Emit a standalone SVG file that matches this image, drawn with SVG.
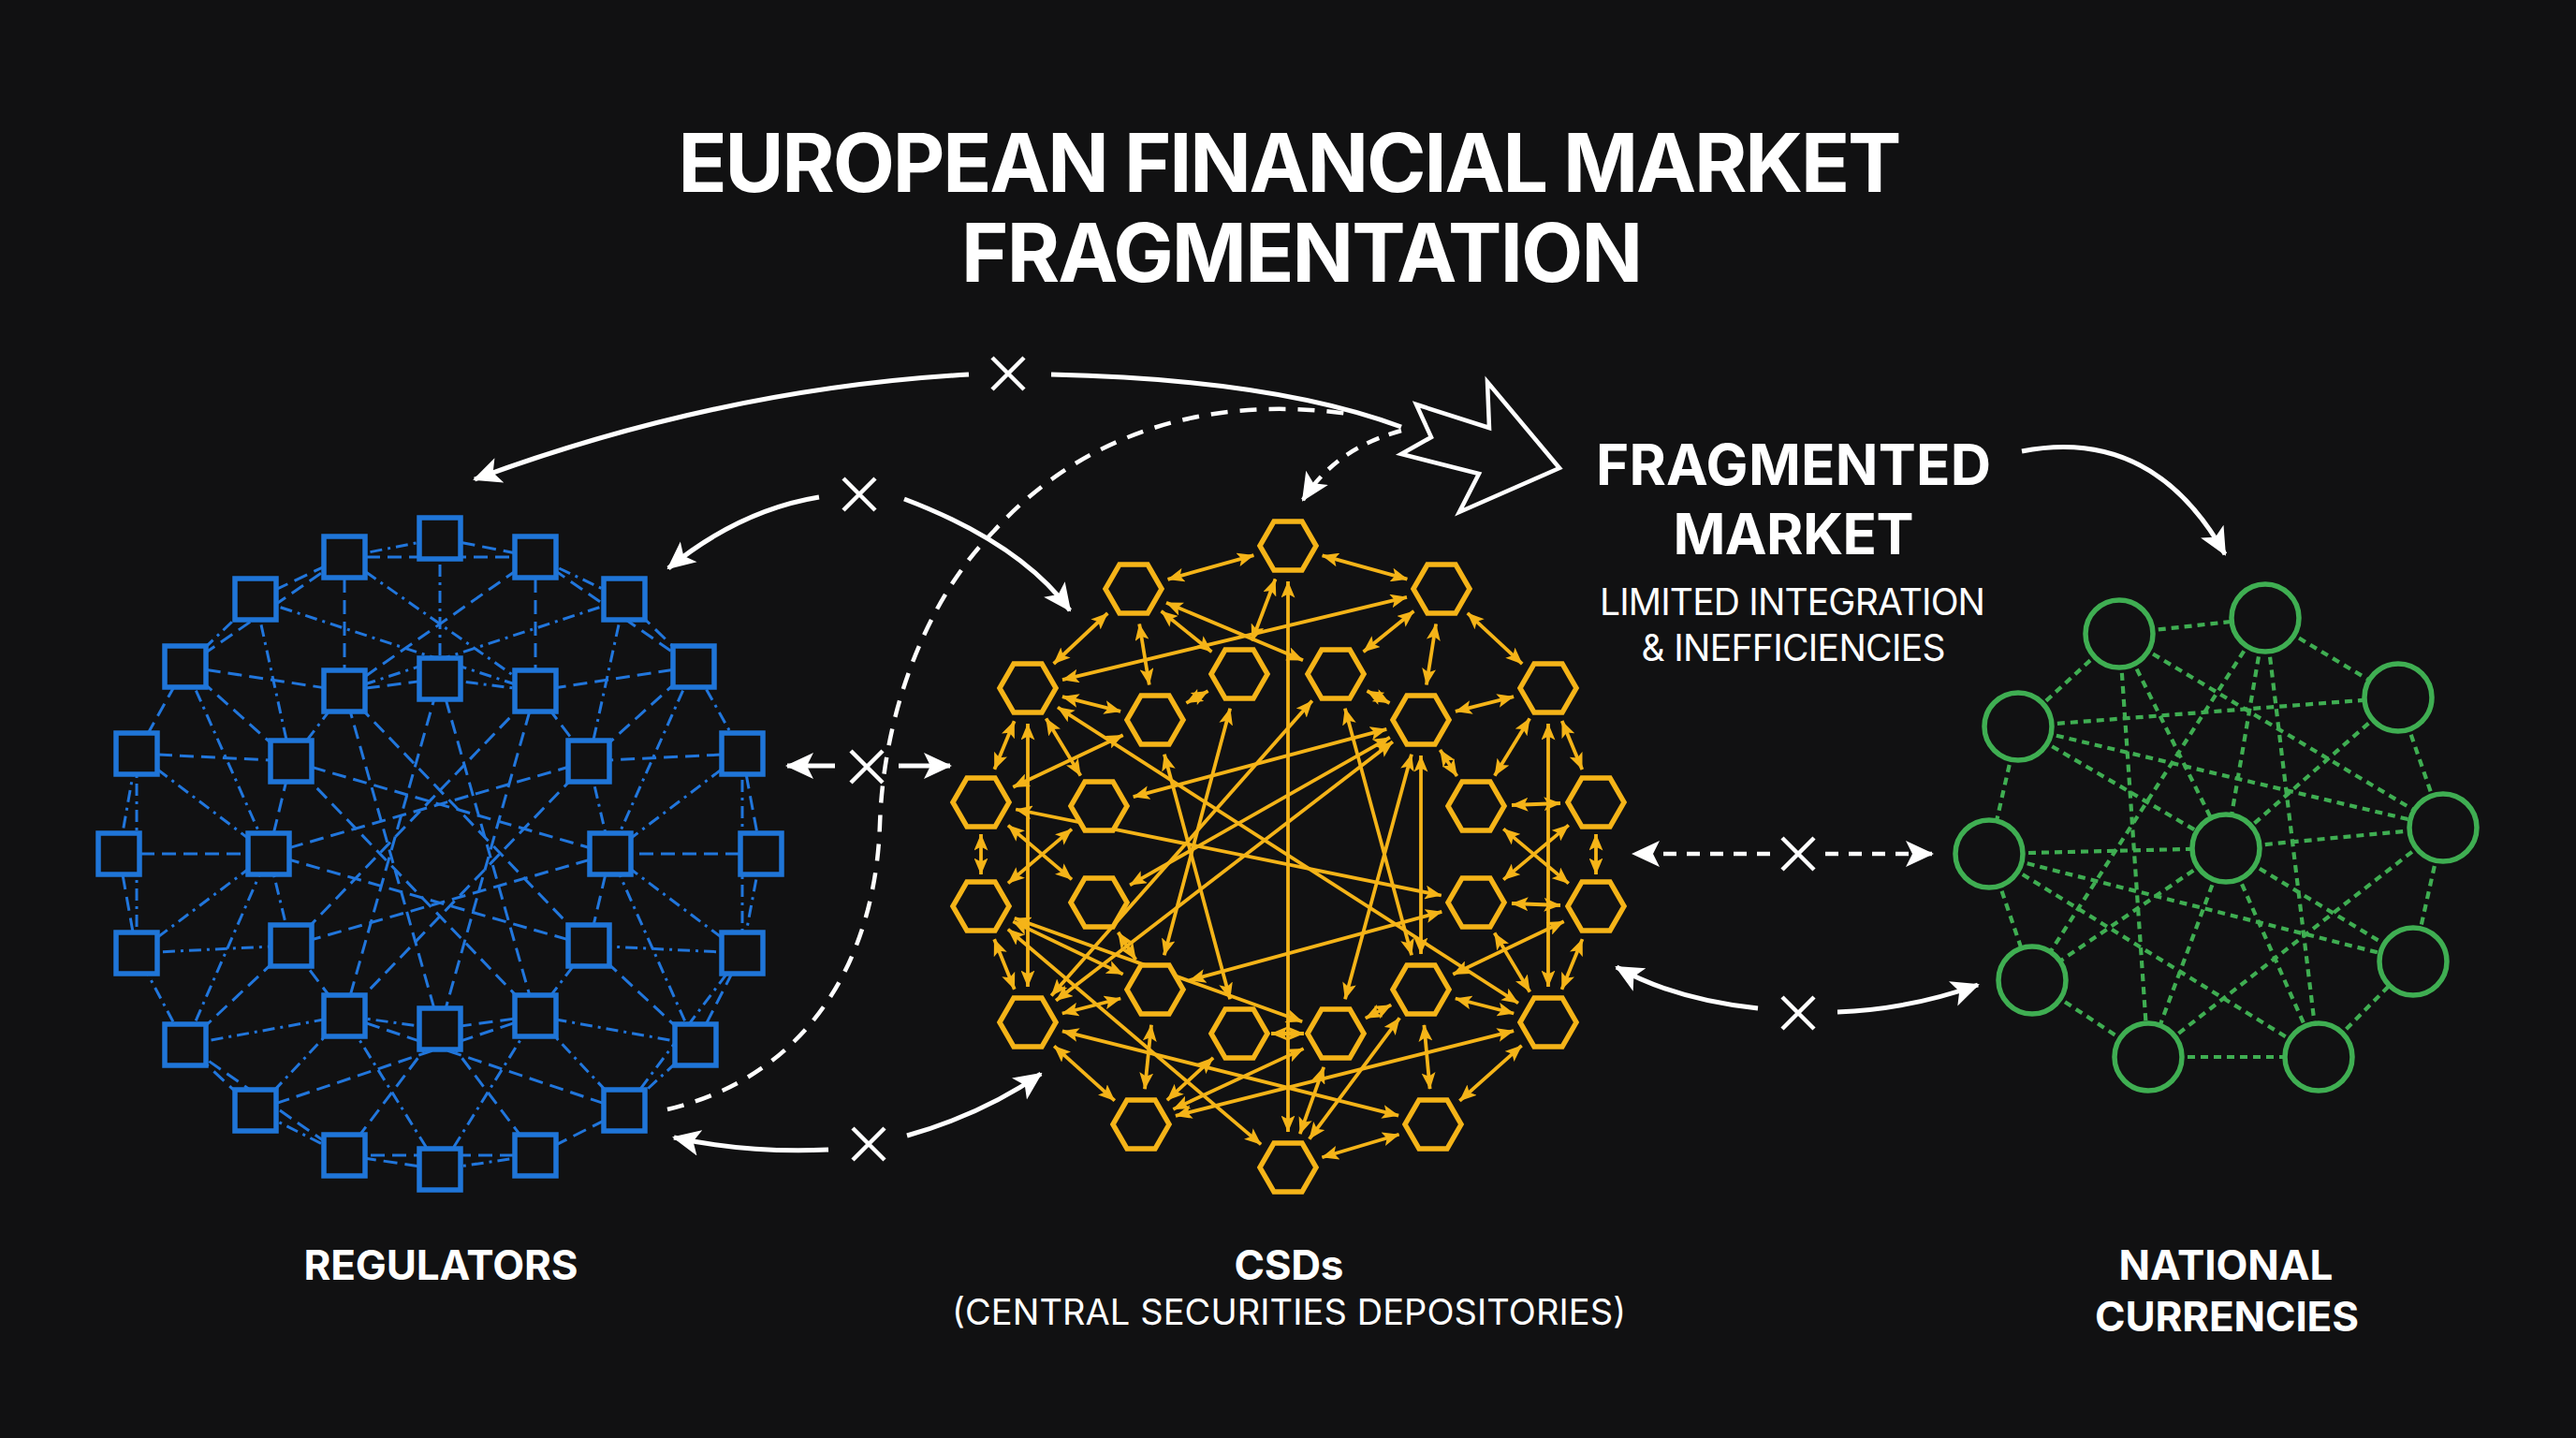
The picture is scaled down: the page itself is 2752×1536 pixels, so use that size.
<svg xmlns="http://www.w3.org/2000/svg" xmlns:xlink="http://www.w3.org/1999/xlink" width="2752" height="1536" viewBox="0 0 2752 1536">
<style>
.bg{fill:#111112}
.t{font-family:Inter,"Liberation Sans",sans-serif;fill:#ffffff;text-anchor:middle}
.b{font-weight:700}
.r{font-weight:400}
.b1{stroke:#2176dc;stroke-width:3;stroke-dasharray:15 8;fill:none}
.b2{stroke:#2176dc;stroke-width:3;stroke-dasharray:13 6 3 6;fill:none}
.ye{stroke:#f5b418;stroke-width:3.8;fill:none;marker-start:url(#ya);marker-end:url(#ya)}
.gr{stroke:#3fae52;stroke-width:4.2;stroke-dasharray:8 6;fill:none}
.wa{stroke:#ffffff;stroke-width:5;fill:none;stroke-linecap:butt}
.wd{stroke:#ffffff;stroke-width:4.5;fill:none;stroke-dasharray:18 13}
.wd2{stroke:#ffffff;stroke-width:4.5;fill:none;stroke-dasharray:14 11}
.xm{stroke:#ffffff;stroke-width:4.5;fill:none}
.sq{fill:#111112;stroke:#1f75d8;stroke-width:5.5}
.hx{fill:#111112;stroke:#f5b418;stroke-width:5.5}
.ci{fill:#111112;stroke:#3fae52;stroke-width:5.5}
</style>
<defs>
<marker id="wa" viewBox="0 0 30 30" refX="28" refY="15" markerWidth="30" markerHeight="30" markerUnits="userSpaceOnUse" orient="auto-start-reverse">
<path d="M0,1 L30,15 L0,29 L7,15 z" fill="#ffffff"/>
</marker>
<marker id="ya" viewBox="0 0 18 15" refX="17.5" refY="7.5" markerWidth="18" markerHeight="15" markerUnits="userSpaceOnUse" orient="auto-start-reverse">
<path d="M0,0 L18,7.5 L0,15 L4,7.5 z" fill="#f5b418"/>
</marker>
<rect id="sq" x="-22" y="-22" width="44" height="44" class="sq"/>
<polygon id="hex" points="30,0 15,26 -15,26 -30,0 -15,-26 15,-26" class="hx"/>
<circle id="cir" r="36" class="ci"/>
<path id="xmark" d="M-17,-17 L17,17 M17,-17 L-17,17" class="xm"/>
</defs>
<rect class="bg" x="0" y="0" width="2752" height="1536"/>

<g id="title">
<text class="t b" x="1378" y="205" font-size="86" textLength="1307">EUROPEAN FINANCIAL MARKET</text>
<text class="t b" x="1391" y="301" font-size="86" textLength="728">FRAGMENTATION</text>
</g>

<g id="connectors">
<g id="regulator-links">
<line class="b1" x1="470" y1="575" x2="572" y2="595"/><line class="b2" x1="572" y1="595" x2="667" y2="640"/>
<line class="b1" x1="667" y1="640" x2="741" y2="712"/><line class="b2" x1="741" y1="712" x2="793" y2="805"/>
<line class="b1" x1="793" y1="805" x2="813" y2="912"/><line class="b2" x1="813" y1="912" x2="793" y2="1018"/>
<line class="b1" x1="793" y1="1018" x2="743" y2="1116"/><line class="b2" x1="743" y1="1116" x2="667" y2="1186"/>
<line class="b1" x1="667" y1="1186" x2="572" y2="1234"/><line class="b2" x1="572" y1="1234" x2="470" y2="1249"/>
<line class="b1" x1="470" y1="1249" x2="368" y2="1234"/><line class="b2" x1="368" y1="1234" x2="273" y2="1186"/>
<line class="b1" x1="273" y1="1186" x2="198" y2="1116"/><line class="b2" x1="198" y1="1116" x2="146" y2="1018"/>
<line class="b1" x1="146" y1="1018" x2="127" y2="912"/><line class="b2" x1="127" y1="912" x2="146" y2="805"/>
<line class="b1" x1="146" y1="805" x2="198" y2="712"/><line class="b2" x1="198" y1="712" x2="273" y2="640"/>
<line class="b1" x1="273" y1="640" x2="368" y2="595"/><line class="b2" x1="368" y1="595" x2="470" y2="575"/>
<line class="b1" x1="572" y1="595" x2="741" y2="712"/>
<line class="b2" x1="793" y1="805" x2="793" y2="1018"/>
<line class="b2" x1="793" y1="1018" x2="667" y2="1186"/>
<line class="b1" x1="572" y1="1234" x2="368" y2="1234"/>
<line class="b1" x1="368" y1="1234" x2="198" y2="1116"/>
<line class="b2" x1="146" y1="1018" x2="146" y2="805"/>
<line class="b1" x1="198" y1="712" x2="368" y2="595"/>
<line class="b1" x1="368" y1="595" x2="572" y2="595"/>
<line class="b2" x1="470" y1="725" x2="572" y2="738"/><line class="b1" x1="572" y1="738" x2="629" y2="813"/>
<line class="b2" x1="629" y1="813" x2="652" y2="912"/><line class="b1" x1="652" y1="912" x2="629" y2="1010"/>
<line class="b2" x1="629" y1="1010" x2="572" y2="1085"/><line class="b1" x1="572" y1="1085" x2="470" y2="1099"/>
<line class="b2" x1="470" y1="1099" x2="368" y2="1085"/><line class="b1" x1="368" y1="1085" x2="311" y2="1010"/>
<line class="b2" x1="311" y1="1010" x2="287" y2="912"/><line class="b1" x1="287" y1="912" x2="311" y2="813"/>
<line class="b2" x1="311" y1="813" x2="368" y2="738"/><line class="b1" x1="368" y1="738" x2="470" y2="725"/>
<line class="b1" x1="470" y1="725" x2="572" y2="1085"/><line class="b1" x1="572" y1="738" x2="470" y2="1099"/>
<line class="b1" x1="629" y1="813" x2="368" y2="1085"/><line class="b1" x1="652" y1="912" x2="311" y2="1010"/>
<line class="b1" x1="629" y1="1010" x2="287" y2="912"/><line class="b1" x1="572" y1="1085" x2="311" y2="813"/>
<line class="b1" x1="470" y1="1099" x2="368" y2="738"/><line class="b1" x1="368" y1="1085" x2="470" y2="725"/>
<line class="b1" x1="311" y1="1010" x2="572" y2="738"/><line class="b1" x1="287" y1="912" x2="629" y2="813"/>
<line class="b1" x1="311" y1="813" x2="652" y2="912"/><line class="b1" x1="368" y1="738" x2="629" y2="1010"/>
<line class="b2" x1="470" y1="575" x2="470" y2="725"/><line class="b1" x1="368" y1="595" x2="368" y2="738"/>
<line class="b1" x1="572" y1="595" x2="572" y2="738"/><line class="b2" x1="368" y1="595" x2="572" y2="738"/>
<line class="b1" x1="572" y1="595" x2="368" y2="738"/><line class="b2" x1="273" y1="640" x2="311" y2="813"/>
<line class="b2" x1="667" y1="640" x2="629" y2="813"/><line class="b1" x1="198" y1="712" x2="368" y2="738"/>
<line class="b1" x1="741" y1="712" x2="572" y2="738"/><line class="b2" x1="146" y1="805" x2="287" y2="912"/>
<line class="b2" x1="793" y1="805" x2="652" y2="912"/><line class="b1" x1="127" y1="912" x2="287" y2="912"/>
<line class="b1" x1="813" y1="912" x2="652" y2="912"/><line class="b2" x1="146" y1="1018" x2="287" y2="912"/>
<line class="b2" x1="793" y1="1018" x2="652" y2="912"/><line class="b1" x1="198" y1="1116" x2="311" y2="1010"/>
<line class="b1" x1="743" y1="1116" x2="629" y2="1010"/><line class="b2" x1="273" y1="1186" x2="368" y2="1085"/>
<line class="b2" x1="667" y1="1186" x2="572" y2="1085"/><line class="b1" x1="368" y1="1234" x2="470" y2="1099"/>
<line class="b1" x1="572" y1="1234" x2="470" y2="1099"/><line class="b2" x1="470" y1="1249" x2="368" y2="1085"/>
<line class="b2" x1="470" y1="1249" x2="572" y2="1085"/><line class="b1" x1="146" y1="805" x2="311" y2="813"/>
<line class="b1" x1="793" y1="805" x2="629" y2="813"/><line class="b2" x1="146" y1="1018" x2="311" y2="1010"/>
<line class="b2" x1="793" y1="1018" x2="629" y2="1010"/><line class="b1" x1="198" y1="712" x2="311" y2="813"/>
<line class="b1" x1="741" y1="712" x2="629" y2="813"/><line class="b2" x1="198" y1="1116" x2="368" y2="1085"/>
<line class="b2" x1="743" y1="1116" x2="572" y2="1085"/><line class="b2" x1="273" y1="640" x2="572" y2="738"/>
<line class="b2" x1="667" y1="640" x2="368" y2="738"/><line class="b1" x1="273" y1="1186" x2="572" y2="1085"/>
<line class="b1" x1="667" y1="1186" x2="368" y2="1085"/>
<line class="b2" x1="198" y1="712" x2="287" y2="912"/><line class="b2" x1="741" y1="712" x2="652" y2="912"/>
<line class="b2" x1="198" y1="1116" x2="287" y2="912"/><line class="b2" x1="743" y1="1116" x2="652" y2="912"/>
</g>

<g id="csd-links">
<line class="ye" x1="1339.4" y1="593.2" x2="1247.6" y2="618.8"/>
<line class="ye" x1="1412.6" y1="593.3" x2="1503.4" y2="618.7"/>
<line class="ye" x1="1183.3" y1="655" x2="1125.7" y2="709"/>
<line class="ye" x1="1217.2" y1="666.5" x2="1227.8" y2="731.5"/>
<line class="ye" x1="1246" y1="643.8" x2="1392" y2="705.2"/>
<line class="ye" x1="1240.6" y1="652.8" x2="1294.4" y2="696.2"/>
<line class="ye" x1="1503" y1="637.9" x2="1135" y2="726.1"/>
<line class="ye" x1="1510.4" y1="652.8" x2="1456.6" y2="696.2"/>
<line class="ye" x1="1534.1" y1="666.5" x2="1523.9" y2="731.5"/>
<line class="ye" x1="1567.8" y1="654.9" x2="1626.2" y2="709.1"/>
<line class="ye" x1="1376" y1="621" x2="1376" y2="1209"/>
<line class="ye" x1="1362.5" y1="618.5" x2="1337.5" y2="684.5"/>
<line class="ye" x1="1134.9" y1="744.2" x2="1197.1" y2="759.8"/>
<line class="ye" x1="1083.6" y1="770.2" x2="1062.4" y2="821.8"/>
<line class="ye" x1="1098" y1="773" x2="1098" y2="1054"/>
<line class="ye" x1="1117.6" y1="767.5" x2="1154.4" y2="828.5"/>
<line class="ye" x1="1130" y1="755.5" x2="1622" y2="1071.5"/>
<line class="ye" x1="1290.6" y1="738.2" x2="1267.4" y2="750.8"/>
<line class="ye" x1="1199.7" y1="785.2" x2="1082.3" y2="840.8"/>
<line class="ye" x1="1243.9" y1="805.7" x2="1314.1" y2="1067.3"/>
<line class="ye" x1="1481.3" y1="778.8" x2="1210.7" y2="851.2"/>
<line class="ye" x1="1484.5" y1="751" x2="1460.5" y2="738"/>
<line class="ye" x1="1554.9" y1="759.8" x2="1617.1" y2="744.2"/>
<line class="ye" x1="1538.5" y1="801" x2="1556.5" y2="829"/>
<line class="ye" x1="1518" y1="807" x2="1518" y2="1019"/>
<line class="ye" x1="1484.9" y1="787.7" x2="1207.1" y2="945.3"/>
<line class="ye" x1="1508" y1="805.7" x2="1437" y2="1067.3"/>
<line class="ye" x1="1436.9" y1="756.7" x2="1508.1" y2="1020.3"/>
<line class="ye" x1="1401.8" y1="748.5" x2="1123.2" y2="1063.5"/>
<line class="ye" x1="1634.2" y1="767.4" x2="1596.8" y2="828.6"/>
<line class="ye" x1="1668.7" y1="770.1" x2="1690.3" y2="821.9"/>
<line class="ye" x1="1654" y1="773" x2="1654" y2="1054"/>
<line class="ye" x1="1615" y1="860" x2="1667" y2="858"/>
<line class="ye" x1="1606.2" y1="885.4" x2="1675.8" y2="943.6"/>
<line class="ye" x1="1675.8" y1="881.4" x2="1606.2" y2="939.6"/>
<line class="ye" x1="1705" y1="891" x2="1705" y2="934"/>
<line class="ye" x1="1667" y1="967" x2="1615" y2="965"/>
<line class="ye" x1="1670.7" y1="984.3" x2="1552.3" y2="1040.7"/>
<line class="ye" x1="1690.5" y1="1003.1" x2="1668.5" y2="1056.9"/>
<line class="ye" x1="1596.6" y1="996.6" x2="1634.4" y2="1059.4"/>
<line class="ye" x1="1540.3" y1="973.9" x2="1270.7" y2="1047.1"/>
<line class="ye" x1="1048" y1="891" x2="1048" y2="934"/>
<line class="ye" x1="1077" y1="881.6" x2="1145" y2="939.4"/>
<line class="ye" x1="1085.2" y1="864.5" x2="1539.8" y2="956.5"/>
<line class="ye" x1="1077" y1="943.4" x2="1145" y2="885.6"/>
<line class="ye" x1="1062.2" y1="1003.2" x2="1083.8" y2="1056.8"/>
<line class="ye" x1="1082.3" y1="984.4" x2="1199.7" y2="1040.6"/>
<line class="ye" x1="1083.8" y1="980.8" x2="1391.2" y2="1091.2"/>
<line class="ye" x1="1194.6" y1="995.9" x2="1213.4" y2="1025.1"/>
<line class="ye" x1="1134.8" y1="1082.5" x2="1197.2" y2="1066.5"/>
<line class="ye" x1="1126.2" y1="1117.4" x2="1190.8" y2="1175.6"/>
<line class="ye" x1="1134.9" y1="1101.3" x2="1494.1" y2="1191.7"/>
<line class="ye" x1="1128.1" y1="1068.8" x2="1487.9" y2="792.2"/>
<line class="ye" x1="1230" y1="1094.8" x2="1223" y2="1163.2"/>
<line class="ye" x1="1358" y1="1104" x2="1393" y2="1104"/>
<line class="ye" x1="1296.1" y1="1129.8" x2="1246.9" y2="1175.2"/>
<line class="ye" x1="1458.8" y1="1087.6" x2="1486.2" y2="1073.4"/>
<line class="ye" x1="1392.6" y1="1120.1" x2="1253.4" y2="1184.9"/>
<line class="ye" x1="1255.9" y1="1191.8" x2="1617.1" y2="1101.2"/>
<line class="ye" x1="1398.8" y1="1216.6" x2="1495.2" y2="1087.4"/>
<line class="ye" x1="1388.8" y1="1211.2" x2="1414.2" y2="1139.8"/>
<line class="ye" x1="1412.4" y1="1236.2" x2="1494.6" y2="1211.8"/>
<line class="ye" x1="1527.6" y1="1163.2" x2="1521.4" y2="1094.8"/>
<line class="ye" x1="1559.4" y1="1175.8" x2="1625.6" y2="1116.8"/>
<line class="ye" x1="1554.8" y1="1066.5" x2="1617.2" y2="1082.5"/>
<line class="ye" x1="1076.9" y1="992.6" x2="1347.1" y2="1222.4"/>
<line class="ye" x1="1314.2" y1="756.7" x2="1243.8" y2="1020.3"/>
</g>

<g id="currency-links">
<line class="gr" x1="2264" y1="677" x2="2420" y2="660"/>
<line class="gr" x1="2420" y1="660" x2="2562" y2="745"/>
<line class="gr" x1="2264" y1="677" x2="2156" y2="776"/>
<line class="gr" x1="2562" y1="745" x2="2610" y2="884"/>
<line class="gr" x1="2156" y1="776" x2="2125" y2="912"/>
<line class="gr" x1="2610" y1="884" x2="2578" y2="1027"/>
<line class="gr" x1="2125" y1="912" x2="2171" y2="1047"/>
<line class="gr" x1="2171" y1="1047" x2="2295" y2="1129"/>
<line class="gr" x1="2295" y1="1129" x2="2477" y2="1129"/>
<line class="gr" x1="2477" y1="1129" x2="2578" y2="1027"/>
<line class="gr" x1="2156" y1="776" x2="2562" y2="745"/>
<line class="gr" x1="2264" y1="677" x2="2378" y2="906"/>
<line class="gr" x1="2264" y1="677" x2="2610" y2="884"/>
<line class="gr" x1="2420" y1="660" x2="2378" y2="906"/>
<line class="gr" x1="2420" y1="660" x2="2477" y2="1129"/>
<line class="gr" x1="2420" y1="660" x2="2171" y2="1047"/>
<line class="gr" x1="2562" y1="745" x2="2378" y2="906"/>
<line class="gr" x1="2156" y1="776" x2="2378" y2="906"/>
<line class="gr" x1="2125" y1="912" x2="2378" y2="906"/>
<line class="gr" x1="2125" y1="912" x2="2578" y2="1027"/>
<line class="gr" x1="2125" y1="912" x2="2477" y2="1129"/>
<line class="gr" x1="2378" y1="906" x2="2610" y2="884"/>
<line class="gr" x1="2378" y1="906" x2="2295" y2="1129"/>
<line class="gr" x1="2378" y1="906" x2="2171" y2="1047"/>
<line class="gr" x1="2378" y1="906" x2="2578" y2="1027"/>
<line class="gr" x1="2378" y1="906" x2="2477" y2="1129"/>
<line class="gr" x1="2610" y1="884" x2="2295" y2="1129"/>
<line class="gr" x1="2264" y1="677" x2="2295" y2="1129"/>
<line class="gr" x1="2156" y1="776" x2="2610" y2="884"/>
</g>

<g id="cross-links">
<path class="wa" d="M1035,400 Q770,415 507,512" marker-end="url(#wa)"/>
<path class="wa" d="M1123,400 Q1360,405 1497,456"/>
<path class="wd" d="M713,1185 C860,1150 935,1030 940,880 C944,760 990,640 1062,567 C1150,470 1280,420 1440,442"/>
<path class="wd2" d="M1497,460 C1460,470 1420,490 1392,534" marker-end="url(#wa)"/>
<path class="wa" d="M875,531 Q790,545 714,607" marker-end="url(#wa)"/>
<path class="wa" d="M966,533 Q1090,580 1143,652" marker-end="url(#wa)"/>
<path class="wa" d="M892,818 L841,818" marker-end="url(#wa)"/>
<path class="wa" d="M960,818 L1015,818" marker-end="url(#wa)"/>
<path class="wa" d="M885,1228 Q800,1232 720,1215" marker-end="url(#wa)"/>
<path class="wa" d="M969,1213 Q1050,1190 1112,1147" marker-end="url(#wa)"/>
<path class="wd2" d="M1891,912 L1745,912" marker-end="url(#wa)"/>
<path class="wd2" d="M1950,912 L2064,912" marker-end="url(#wa)"/>
<path class="wa" d="M1878,1077 Q1790,1068 1727,1033" marker-end="url(#wa)"/>
<path class="wa" d="M1963,1081 Q2040,1078 2113,1052" marker-end="url(#wa)"/>
<path class="wa" d="M2160,482 Q2300,455 2377,592" marker-end="url(#wa)"/>
<polygon points="1513,432 1591,457 1589,408 1666,500 1559,547 1580,506 1497,485 1529,467" fill="#111112" stroke="#ffffff" stroke-width="4.5" stroke-linejoin="miter"/>
<use href="#xmark" x="1077" y="399"/>
<use href="#xmark" x="918" y="528"/>
<use href="#xmark" x="926" y="819"/>
<use href="#xmark" x="928" y="1222"/>
<use href="#xmark" x="1921" y="912"/>
<use href="#xmark" x="1921" y="1082"/>
</g>
</g>

<g id="regulators">
<g id="reg-1"><use href="#sq" x="470" y="575"/></g>
<g id="reg-2"><use href="#sq" x="368" y="595"/></g>
<g id="reg-3"><use href="#sq" x="572" y="595"/></g>
<g id="reg-4"><use href="#sq" x="273" y="640"/></g>
<g id="reg-5"><use href="#sq" x="667" y="640"/></g>
<g id="reg-6"><use href="#sq" x="198" y="712"/></g>
<g id="reg-7"><use href="#sq" x="741" y="712"/></g>
<g id="reg-8"><use href="#sq" x="470" y="725"/></g>
<g id="reg-9"><use href="#sq" x="368" y="738"/></g>
<g id="reg-10"><use href="#sq" x="572" y="738"/></g>
<g id="reg-11"><use href="#sq" x="146" y="805"/></g>
<g id="reg-12"><use href="#sq" x="793" y="805"/></g>
<g id="reg-13"><use href="#sq" x="311" y="813"/></g>
<g id="reg-14"><use href="#sq" x="629" y="813"/></g>
<g id="reg-15"><use href="#sq" x="127" y="912"/></g>
<g id="reg-16"><use href="#sq" x="813" y="912"/></g>
<g id="reg-17"><use href="#sq" x="287" y="912"/></g>
<g id="reg-18"><use href="#sq" x="652" y="912"/></g>
<g id="reg-19"><use href="#sq" x="146" y="1018"/></g>
<g id="reg-20"><use href="#sq" x="793" y="1018"/></g>
<g id="reg-21"><use href="#sq" x="311" y="1010"/></g>
<g id="reg-22"><use href="#sq" x="629" y="1010"/></g>
<g id="reg-23"><use href="#sq" x="198" y="1116"/></g>
<g id="reg-24"><use href="#sq" x="743" y="1116"/></g>
<g id="reg-25"><use href="#sq" x="368" y="1085"/></g>
<g id="reg-26"><use href="#sq" x="470" y="1099"/></g>
<g id="reg-27"><use href="#sq" x="572" y="1085"/></g>
<g id="reg-28"><use href="#sq" x="273" y="1186"/></g>
<g id="reg-29"><use href="#sq" x="667" y="1186"/></g>
<g id="reg-30"><use href="#sq" x="368" y="1234"/></g>
<g id="reg-31"><use href="#sq" x="470" y="1249"/></g>
<g id="reg-32"><use href="#sq" x="572" y="1234"/></g>
</g>

<g id="csds">
<g id="csd-1"><use href="#hex" x="1376" y="583"/></g>
<g id="csd-2"><use href="#hex" x="1211" y="629"/></g>
<g id="csd-3"><use href="#hex" x="1540" y="629"/></g>
<g id="csd-4"><use href="#hex" x="1098" y="735"/></g>
<g id="csd-5"><use href="#hex" x="1324" y="720"/></g>
<g id="csd-6"><use href="#hex" x="1427" y="720"/></g>
<g id="csd-7"><use href="#hex" x="1654" y="735"/></g>
<g id="csd-8"><use href="#hex" x="1234" y="769"/></g>
<g id="csd-9"><use href="#hex" x="1518" y="769"/></g>
<g id="csd-10"><use href="#hex" x="1048" y="857"/></g>
<g id="csd-11"><use href="#hex" x="1174" y="861"/></g>
<g id="csd-12"><use href="#hex" x="1577" y="861"/></g>
<g id="csd-13"><use href="#hex" x="1705" y="857"/></g>
<g id="csd-14"><use href="#hex" x="1048" y="968"/></g>
<g id="csd-15"><use href="#hex" x="1174" y="964"/></g>
<g id="csd-16"><use href="#hex" x="1577" y="964"/></g>
<g id="csd-17"><use href="#hex" x="1705" y="968"/></g>
<g id="csd-18"><use href="#hex" x="1098" y="1092"/></g>
<g id="csd-19"><use href="#hex" x="1234" y="1057"/></g>
<g id="csd-20"><use href="#hex" x="1518" y="1057"/></g>
<g id="csd-21"><use href="#hex" x="1654" y="1092"/></g>
<g id="csd-22"><use href="#hex" x="1324" y="1104"/></g>
<g id="csd-23"><use href="#hex" x="1427" y="1104"/></g>
<g id="csd-24"><use href="#hex" x="1219" y="1201"/></g>
<g id="csd-25"><use href="#hex" x="1531" y="1201"/></g>
<g id="csd-26"><use href="#hex" x="1376" y="1247"/></g>
</g>

<g id="currencies">
<g id="cur-1"><use href="#cir" x="2264" y="677"/></g>
<g id="cur-2"><use href="#cir" x="2420" y="660"/></g>
<g id="cur-3"><use href="#cir" x="2562" y="745"/></g>
<g id="cur-4"><use href="#cir" x="2156" y="776"/></g>
<g id="cur-5"><use href="#cir" x="2610" y="884"/></g>
<g id="cur-6"><use href="#cir" x="2125" y="912"/></g>
<g id="cur-7"><use href="#cir" x="2378" y="906"/></g>
<g id="cur-8"><use href="#cir" x="2578" y="1027"/></g>
<g id="cur-9"><use href="#cir" x="2171" y="1047"/></g>
<g id="cur-10"><use href="#cir" x="2295" y="1129"/></g>
<g id="cur-11"><use href="#cir" x="2477" y="1129"/></g>
</g>

<g id="fragmented-market">
<text class="t b" x="1916" y="518" font-size="60" textLength="422">FRAGMENTED</text>
<text class="t b" x="1916" y="592" font-size="60" textLength="257">MARKET</text>
<text class="t r" x="1915" y="657" font-size="39" textLength="412">LIMITED INTEGRATION</text>
<text class="t r" x="1916" y="706" font-size="39" textLength="325">&amp; INEFFICIENCIES</text>
</g>

<g id="labels">
<text class="t b" x="471" y="1367" font-size="44" textLength="293">REGULATORS</text>
<text class="t b" x="1377" y="1367" font-size="44" textLength="117">CSDs</text>
<text class="t r" x="1377" y="1415" font-size="38" textLength="720">(CENTRAL SECURITIES DEPOSITORIES)</text>
<text class="t b" x="2378" y="1367" font-size="44" textLength="229">NATIONAL</text>
<text class="t b" x="2379" y="1422" font-size="44" textLength="282">CURRENCIES</text>
</g>
</svg>
